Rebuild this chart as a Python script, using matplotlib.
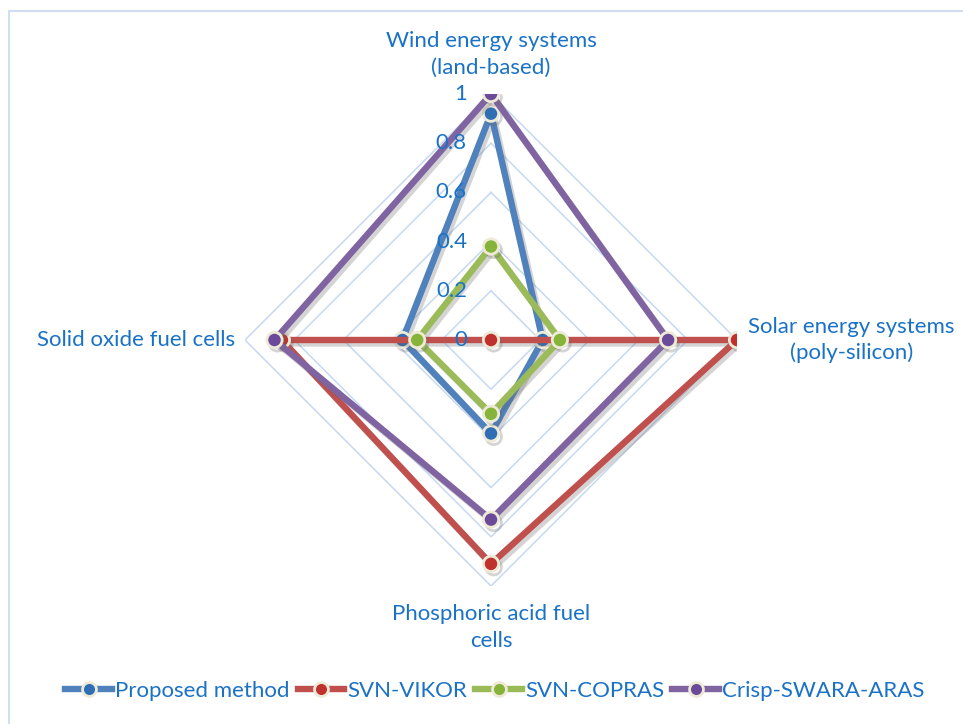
import numpy as np
import matplotlib.pyplot as plt
import matplotlib.patheffects as pe
from matplotlib.patches import Rectangle
from matplotlib.transforms import ScaledTranslation

plt.rcParams['font.family'] = ['Lato', 'DejaVu Sans']

criteria = ['Wind energy systems\n(land-based)', 'Solar energy systems\n(poly-silicon)',
            'Phosphoric acid fuel\ncells', 'Solid oxide fuel cells']
methods = ['Proposed method', 'SVN-VIKOR', 'SVN-COPRAS', 'Crisp-SWARA-ARAS']
proposed = [0.92, 0.21, 0.38, 0.36]
svn_vikor = [0.0, 1.0, 0.91, 0.85]
svn_copras = [0.38, 0.28, 0.30, 0.30]
crisp_swara_aras = [1.0, 0.72, 0.73, 0.88]
ring_levels = [0.2, 0.4, 0.6, 0.8, 1.0]
ring_labels = ['0', '0.2', '0.4', '0.6', '0.8', '1']

line_colors = ['#4F81BD', '#C0504D', '#9BBB59', '#8064A2']
dot_colors = ['#2F6DB5', '#C0302C', '#86B33A', '#6B4A99']
text_color = '#1A72C6'
grid_color = '#C6D9F1'

W, H = 963, 724
fig = plt.figure(figsize=(W / 100, H / 100), dpi=100)
cx, cy, R = 491, 384, 246
ax = fig.add_axes([(cx - R) / W, (cy - R) / H, 2 * R / W, 2 * R / H], projection='polar')
ax.set_theta_zero_location('N')
ax.set_theta_direction(-1)
ax.set_ylim(0, 1)
ax.axis('off')

theta = np.linspace(0, 2 * np.pi, len(criteria), endpoint=False)
closed = np.append(theta, theta[0])

# diamond grid rings
for lev in ring_levels:
    ax.plot(closed, [lev] * len(closed), color=grid_color, lw=1.1, zorder=1)

shadow = [pe.SimpleLineShadow(offset=(2, -2.5), shadow_color='#666666', alpha=0.28),
          pe.Normal()]
series = [proposed, svn_vikor, svn_copras, crisp_swara_aras]
for i, vals in enumerate(series):
    v = np.append(vals, vals[0])
    ax.plot(closed, v, color=line_colors[i], lw=4.6, solid_joinstyle='miter',
            zorder=3 + 2 * i, path_effects=shadow)
    ax.plot(theta, vals, ls='none', marker='o', ms=11, mfc=dot_colors[i],
            mec='#EEEAD8', mew=2, zorder=4 + 2 * i, path_effects=shadow,
            label=methods[i])

fs = 16

# value labels left of the top axis
off = ScaledTranslation(-0.24, 0, fig.dpi_scale_trans)
for lev, lab in zip([0] + ring_levels, ring_labels):
    ax.text(0, lev, lab, ha='right', va='center', fontsize=fs, color=text_color,
            transform=ax.transData + off, zorder=20)

ax.text(0, 1.16, criteria[0], ha='center', va='center', fontsize=fs,
        color=text_color, linespacing=1.45)
ax.text(theta[1], 1.045, criteria[1], ha='left', va='center', fontsize=fs,
        color=text_color, linespacing=1.3, multialignment='center')
ax.text(theta[2], 1.17, criteria[2], ha='center', va='center', fontsize=fs,
        color=text_color, linespacing=1.45)
ax.text(theta[3], 1.04, criteria[3], ha='right', va='center', fontsize=fs,
        color=text_color)

handles = []
for i in range(4):
    h, = ax.plot([], [], color=line_colors[i], lw=4.6, marker='o', ms=10,
                 mfc=dot_colors[i], mec='#EEEAD8', mew=2)
    handles.append(h)
leg = fig.legend(handles, methods, loc='center',
                 bbox_to_anchor=(495 / W, 1 - 691 / H),
                 ncol=4, frameon=False, fontsize=fs, handlelength=2.1,
                 handletextpad=0.15, columnspacing=0.35, borderaxespad=0)
for t in leg.get_texts():
    t.set_color(text_color)

fig.patches.append(Rectangle((8.5 / W, -0.1), 2, 1 - 10.5 / H + 0.1,
                             transform=fig.transFigure, fill=False,
                             edgecolor='#D0DEF2', lw=1.5))

fig.savefig('out.png', dpi=100)
